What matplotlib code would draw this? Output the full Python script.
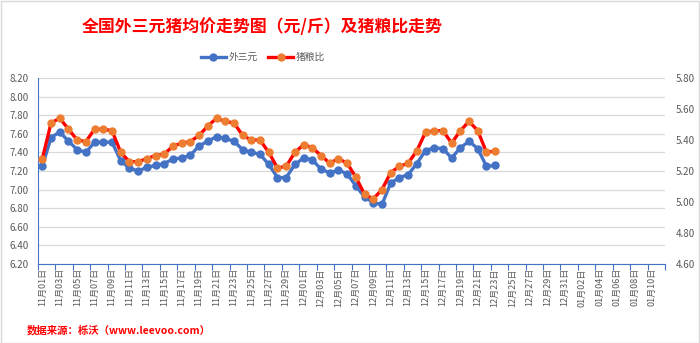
import numpy as np
import pandas as pd
import matplotlib
matplotlib.use("Agg")
import matplotlib.pyplot as plt
from matplotlib.patches import Rectangle

plt.rcParams['font.family'] = ['Noto Sans CJK SC', 'DejaVu Sans']

# categories: one per day, 11/01 .. 01/11
dates = pd.date_range("2020-11-01", "2021-01-11", freq="D")
cats = [d.strftime("%m月%d日") for d in dates]

# 外三元 price (yuan/jin), 11/01 .. 12/23
price = [7.25, 7.56, 7.62, 7.52, 7.43, 7.40, 7.51, 7.51, 7.51, 7.31,
         7.23, 7.20, 7.24, 7.26, 7.28, 7.33, 7.34, 7.37, 7.47, 7.52,
         7.57, 7.55, 7.52, 7.43, 7.40, 7.38, 7.27, 7.13, 7.13, 7.27,
         7.34, 7.32, 7.22, 7.18, 7.21, 7.17, 7.04, 6.92, 6.86, 6.84,
         7.07, 7.13, 7.16, 7.28, 7.42, 7.45, 7.44, 7.34, 7.45, 7.52,
         7.44, 7.25, 7.26]

# 猪粮比, 11/01 .. 12/23
ratio = [5.28, 5.51, 5.54, 5.47, 5.40, 5.39, 5.47, 5.47, 5.46, 5.32,
         5.26, 5.26, 5.28, 5.30, 5.31, 5.36, 5.38, 5.39, 5.43, 5.49,
         5.54, 5.52, 5.51, 5.43, 5.40, 5.40, 5.32, 5.22, 5.23, 5.32,
         5.37, 5.35, 5.30, 5.25, 5.28, 5.25, 5.16, 5.05, 5.02, 5.08,
         5.19, 5.23, 5.25, 5.33, 5.45, 5.46, 5.46, 5.38, 5.46, 5.52,
         5.46, 5.32, 5.33]

left_ticks = np.arange(6.2, 8.21, 0.2)
right_ticks = np.arange(4.6, 5.81, 0.2)

blue = '#4472C4'
orange = '#ED7D31'
red = '#FF0000'
grey = '#595959'

fig = plt.figure(figsize=(7, 3.43), dpi=100)
fig.patches.append(Rectangle((0.001, 0.001), 0.997, 0.997, transform=fig.transFigure,
                             fill=False, edgecolor='#d9d9d9', linewidth=1))

ax = fig.add_axes([38/700, 1-264/343, (665-38)/700, (264-78)/343])
ax2 = ax.twinx()

x = np.arange(len(price))
l1, = ax.plot(x, price, color=blue, lw=2.4, marker='o', ms=5, mfc=blue, mec=blue,
              label='外三元', zorder=3)
l2, = ax2.plot(np.arange(len(ratio)), ratio, color=red, lw=2.4, marker='o', ms=5,
               mfc=orange, mec=orange, label='猪粮比', zorder=3)

ax.set_xlim(-0.5, len(cats) - 0.5)
ax.set_ylim(6.2, 8.2)
ax2.set_ylim(4.6, 5.8)
ax.set_yticks(left_ticks)
ax.set_yticklabels(['%.2f' % v for v in left_ticks])
ax2.set_yticks(right_ticks)
ax2.set_yticklabels(['%.2f' % v for v in right_ticks])

# category ticks between days, labels every 2nd day
ax.set_xticks(np.arange(-0.5, len(cats), 2))
ax.set_xticklabels([])
ax.set_xticks(np.arange(0, len(cats), 2), minor=True)
ax.set_xticklabels(cats[::2], minor=True, rotation=90, fontsize=6.5, color=grey)
ax.tick_params(axis='x', which='major', length=4, color=blue, direction='out')
ax.tick_params(axis='x', which='minor', length=0, pad=3)

ax.tick_params(axis='y', length=0, labelsize=7, labelcolor=grey, pad=7)
ax2.tick_params(axis='y', length=0, labelsize=7, labelcolor=grey, pad=8)

ax.grid(axis='y', color='#d9d9d9', lw=0.9)
ax.set_axisbelow(True)
for s in ['top', 'right']:
    ax.spines[s].set_visible(False)
for s in ['top', 'right', 'left', 'bottom']:
    ax2.spines[s].set_visible(False)
ax.spines['left'].set_color(blue)
ax.spines['bottom'].set_color(blue)
ax.spines['bottom'].set_zorder(4)

fig.text(262/700, 1-27/343, '全国外三元猪均价走势图（元/斤）及猪粮比走势', color=red,
         fontsize=12.2, fontweight='bold', ha='center', va='center')
fig.legend(handles=[l1, l2], loc='center', bbox_to_anchor=(263/700, 1-57/343), ncol=2,
           frameon=False, fontsize=7, labelcolor=grey, handlelength=2.6,
           columnspacing=1.0, handletextpad=0.3)
fig.text(27/700, 1-330/343, '数据来源：栎沃（www.leevoo.com）', color=red,
         fontsize=7.5, fontweight='bold', ha='left', va='center')

fig.savefig('out.png', dpi=100)
